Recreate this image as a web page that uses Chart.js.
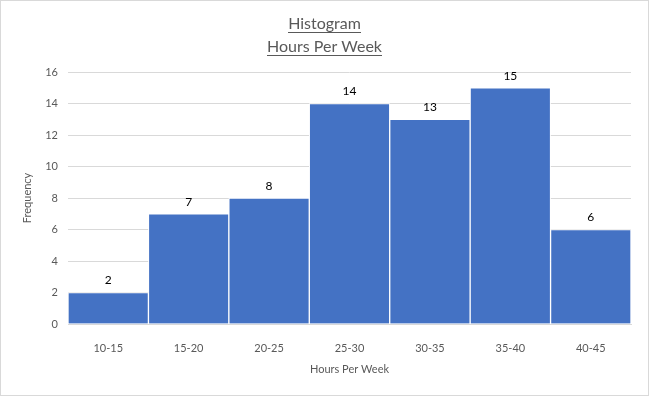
<!DOCTYPE html>
<html>
<head>
<meta charset="utf-8">
<script src="https://cdn.jsdelivr.net/npm/chart.js@4/dist/chart.umd.min.js"></script>
<style>
  body { margin: 0; background: #fff; }
  #wrap { width: 649px; height: 396px; }
</style>
</head>
<body>
<div id="wrap"><canvas id="myChart" width="649" height="396"></canvas></div>
<script>
// data
const bins = ['10-15', '15-20', '20-25', '25-30', '30-35', '35-40', '40-45'];
const frequency = [2, 7, 8, 14, 13, 15, 6];
const titleLines = ['Histogram', 'Hours Per Week'];
const xTitle = 'Hours Per Week';
const yTitle = 'Frequency';

const FONT = 'Lato, "Liberation Sans", sans-serif';
const GREY = '#595959';

// frame + underlined title
const titlePlugin = {
  id: 'titlePlugin',
  afterDraw(chart) {
    const ctx = chart.ctx;
    ctx.save();
    ctx.strokeStyle = '#d9d9d9';
    ctx.lineWidth = 1;
    ctx.strokeRect(0.5, 0.5, chart.width - 1, chart.height - 1);

    ctx.font = '16px ' + FONT;
    ctx.fillStyle = GREY;
    ctx.textAlign = 'center';
    ctx.textBaseline = 'alphabetic';
    const cx = chart.width / 2;
    const baselines = [29, 52];
    titleLines.forEach((t, i) => {
      ctx.fillText(t, cx, baselines[i]);
      const w = ctx.measureText(t).width;
      ctx.fillRect(Math.round(cx - w / 2), baselines[i] + 3, Math.round(w), 1);
    });
    ctx.restore();
  }
};

// value labels above the bars
const labelPlugin = {
  id: 'labelPlugin',
  afterDatasetsDraw(chart) {
    const ctx = chart.ctx;
    const meta = chart.getDatasetMeta(0);
    ctx.save();
    ctx.font = '12px ' + FONT;
    ctx.fillStyle = '#000';
    ctx.textAlign = 'center';
    ctx.textBaseline = 'middle';
    meta.data.forEach((bar, i) => {
      ctx.fillText(frequency[i], bar.x, bar.y - 12);
    });
    ctx.restore();
  }
};

const chartElement = document.getElementById('myChart');

new Chart(chartElement, {
  type: 'bar',
  data: {
    labels: bins,
    datasets: [{
      label: 'Frequency',
      data: frequency,
      backgroundColor: '#4472c4',
      borderColor: '#ffffff',
      borderWidth: 1,
      categoryPercentage: 1,
      barPercentage: 1
    }]
  },
  options: {
    responsive: false,
    animation: false,
    layout: { padding: { top: 72, right: 18, bottom: 0, left: 0 } },
    plugins: {
      legend: { display: false },
      tooltip: { enabled: false }
    },
    scales: {
      y: {
        min: 0,
        max: 16,
        afterFit: (s) => { s.width = 68; },
        ticks: { stepSize: 2, color: GREY, font: { family: FONT, size: 11 }, padding: 10 },
        grid: { color: '#d9d9d9', drawTicks: false },
        border: { display: false },
        title: { display: true, text: yTitle, color: GREY, font: { family: FONT, size: 11 }, padding: 21 }
      },
      x: {
        afterFit: (s) => { s.height = 72; },
        ticks: { color: GREY, font: { family: FONT, size: 11 }, padding: 10 },
        grid: { display: false },
        border: { color: '#d9d9d9' },
        title: { display: true, text: xTitle, color: GREY, font: { family: FONT, size: 11 }, padding: 20 }
      }
    }
  },
  plugins: [titlePlugin, labelPlugin]
});
</script>
</body>
</html>
